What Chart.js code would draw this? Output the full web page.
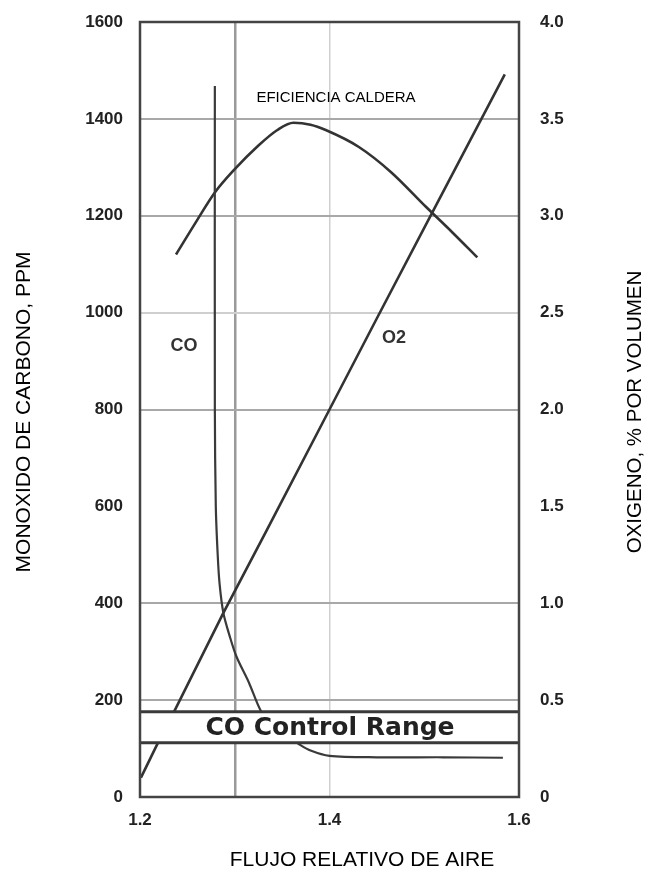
<!DOCTYPE html>
<html lang="es">
  <head>
    <meta charset="UTF-8" />
    <title>CO, O2 y eficiencia de caldera</title>
    <style>
      body {
        margin: 0;
        background-color: #ffffff;
      }
      .chart-container {
        position: relative;
        width: 648px;
        height: 872px;
      }
    </style>
  </head>
  <body>
    <div class="chart-container">
      <canvas id="mainChart"></canvas>
    </div>
    <script src="https://cdn.jsdelivr.net/npm/chart.js"></script>
    <script>
      // curva de CO (ppm)
      var coFlow = [1.279, 1.279, 1.28, 1.282, 1.284, 1.288, 1.295, 1.302, 1.315, 1.328, 1.34, 1.355, 1.367, 1.38, 1.4, 1.45, 1.52, 1.583];
      var coPpm = [1468, 800, 600, 500, 440, 380, 330, 289, 236, 176, 150, 125, 110, 96, 85, 82, 82, 81];

      // eficiencia de la caldera (forma, sobre el eje de ppm)
      var effFlow = [1.238, 1.26, 1.279, 1.299, 1.325, 1.345, 1.362, 1.38, 1.396, 1.431, 1.465, 1.502, 1.53, 1.556];
      var effValue = [1120, 1190, 1248, 1294, 1345, 1377, 1392, 1388, 1377, 1342, 1290, 1218, 1165, 1114];

      // oxigeno (% por volumen)
      var o2Flow = [1.201, 1.218, 1.238, 1.288, 1.333, 1.4, 1.451, 1.512, 1.585];
      var o2Pct = [0.1, 0.27, 0.46, 0.95, 1.37, 2.0, 2.48, 3.05, 3.73];

      // rango de control de CO (ppm)
      var controlRange = [112, 176];

      var xLabels = [1.2, 1.4, 1.6];
      var hiddenPpmGrid = [0, 600, 1600];

      function pairs(xs, ys) {
        return xs.map(function (x, i) {
          return { x: x, y: ys[i] };
        });
      }

      var tickFont = { family: "'Liberation Sans', Arial, sans-serif", size: 17, weight: "bold" };
      var lineColor = "#333333";

      // marco, banda de control, textos
      var extras = {
        id: "extras",
        afterDatasetsDraw: function (chart) {
          var c = chart.ctx;
          var a = chart.chartArea;
          var y = chart.scales.y;
          c.save();

          // banda "CO Control Range"
          var yTop = y.getPixelForValue(controlRange[1]);
          var yBot = y.getPixelForValue(controlRange[0]);
          c.fillStyle = "#ffffff";
          c.fillRect(a.left, yTop, a.right - a.left, yBot - yTop);
          c.strokeStyle = "#3a3a3a";
          c.lineWidth = 3;
          c.beginPath();
          c.moveTo(a.left, yTop);
          c.lineTo(a.right, yTop);
          c.moveTo(a.left, yBot);
          c.lineTo(a.right, yBot);
          c.stroke();
          c.fillStyle = "#222222";
          c.font = "bold 25px 'DejaVu Sans', sans-serif";
          c.textAlign = "center";
          c.textBaseline = "middle";
          c.fillText("CO Control Range", 330, (yTop + yBot) / 2 + 1);

          // marco
          c.strokeStyle = "#444444";
          c.lineWidth = 2.5;
          c.strokeRect(a.left, a.top, a.right - a.left, a.bottom - a.top);

          // etiquetas de curvas
          c.fillStyle = "#000000";
          c.font = "15px 'Liberation Sans', Arial, sans-serif";
          c.fillText("EFICIENCIA CALDERA", 336, 98);
          c.fillStyle = "#333333";
          c.font = "bold 18px 'Liberation Sans Narrow', 'Liberation Sans', sans-serif";
          c.fillText("CO", 184, 346);
          c.fillText("O2", 394, 338);

          // titulos de ejes
          c.fillStyle = "#000000";
          c.font = "21px 'Liberation Sans', Arial, sans-serif";
          c.fillText("FLUJO RELATIVO DE AIRE", 362, 860);
          c.translate(24, 412);
          c.rotate(-Math.PI / 2);
          c.fillText("MONOXIDO DE CARBONO, PPM", 0, 0);
          c.rotate(Math.PI / 2);
          c.translate(635 - 24, 0);
          c.rotate(-Math.PI / 2);
          c.font = "20.5px 'Liberation Sans', Arial, sans-serif";
          c.fillText("OXIGENO, % POR VOLUMEN", 0, 0);
          c.restore();
        },
      };

      var ctxMain = document.getElementById("mainChart").getContext("2d");
      var mainChart = new Chart(ctxMain, {
        type: "line",
        data: {
          datasets: [
            {
              label: "CO",
              data: pairs(coFlow, coPpm),
              yAxisID: "y",
              borderColor: "#3a3a3a",
              borderWidth: 2.2,
              tension: 0.3,
            },
            {
              label: "EFICIENCIA CALDERA",
              data: pairs(effFlow, effValue),
              yAxisID: "y",
              borderColor: lineColor,
              borderWidth: 2.6,
              cubicInterpolationMode: "monotone",
            },
            {
              label: "O2",
              data: pairs(o2Flow, o2Pct),
              yAxisID: "y2",
              borderColor: lineColor,
              borderWidth: 2.6,
              tension: 0,
            },
          ],
        },
        options: {
          responsive: true,
          maintainAspectRatio: false,
          animation: false,
          layout: { padding: { top: 22, left: 0, right: 0, bottom: 0 } },
          elements: { point: { radius: 0 } },
          plugins: {
            legend: { display: false },
            tooltip: { enabled: false },
          },
          scales: {
            x: {
              type: "linear",
              min: 1.2,
              max: 1.6,
              afterFit: function (s) {
                s.height = 75;
              },
              border: { display: false },
              grid: {
                drawTicks: false,
                color: function (ctx) {
                  var v = Math.round(ctx.tick.value * 10);
                  if (v === 13) return "#9a9a9a";
                  if (v === 14) return "#d0d0d0";
                  return "rgba(0,0,0,0)";
                },
                lineWidth: function (ctx) {
                  return Math.round(ctx.tick.value * 10) === 13 ? 2.5 : 1.5;
                },
              },
              ticks: {
                stepSize: 0.1,
                padding: 13,
                color: "#222222",
                font: tickFont,
                callback: function (v) {
                  var r = Math.round(v * 10) / 10;
                  return xLabels.indexOf(r) >= 0 ? r.toFixed(1) : "";
                },
              },
            },
            y: {
              position: "left",
              min: 0,
              max: 1600,
              afterFit: function (s) {
                s.width = 140;
                s.paddingTop = 0;
                s.paddingBottom = 0;
              },
              border: { display: false },
              grid: {
                drawTicks: false,
                lineWidth: 2,
                color: function (ctx) {
                  var v = ctx.tick.value;
                  if (hiddenPpmGrid.indexOf(v) >= 0) return "rgba(0,0,0,0)";
                  if (v === 1000) return "#cfcfcf";
                  return "#a8a8a8";
                },
              },
              ticks: {
                stepSize: 200,
                padding: 17,
                color: "#222222",
                font: tickFont,
                callback: function (v) {
                  return String(v);
                },
              },
            },
            y2: {
              position: "right",
              min: 0,
              max: 4,
              afterFit: function (s) {
                s.width = 129;
                s.paddingTop = 0;
                s.paddingBottom = 0;
              },
              border: { display: false },
              grid: { display: false, drawTicks: false },
              ticks: {
                stepSize: 0.5,
                padding: 21,
                color: "#222222",
                font: tickFont,
                callback: function (v) {
                  return v === 0 ? "0" : v.toFixed(1);
                },
              },
            },
          },
        },
        plugins: [extras],
      });
    </script>
  </body>
</html>
